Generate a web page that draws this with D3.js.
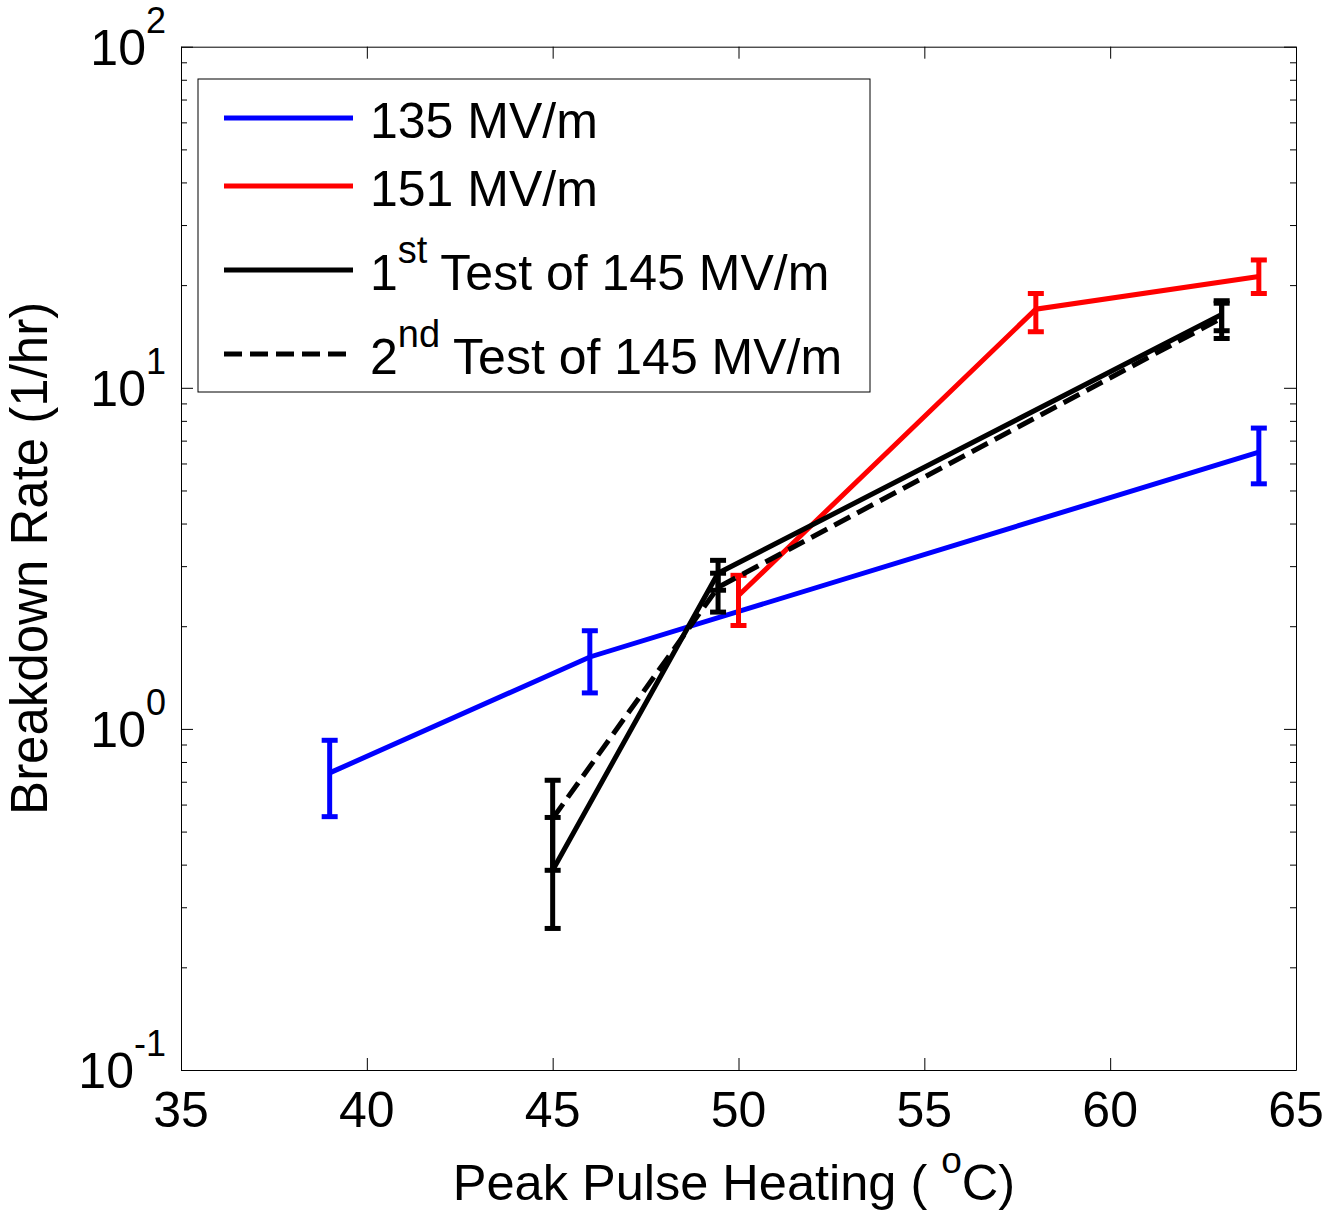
<!DOCTYPE html>
<html>
<head>
<meta charset="utf-8">
<script src="https://cdn.jsdelivr.net/npm/d3@7"></script>
<style>
  body { margin: 0; background: #fff; }
  text { font-family: "Liberation Sans", Arial, Helvetica, sans-serif; fill: #000; }
</style>
</head>
<body>
<div id="chart-area"></div>
<script>
// tick values
const xTicks = [35, 40, 45, 50, 55, 60, 65]
const yExps = [-1, 0, 1, 2]

// 135 MV/m
const temp135 = [39, 46, 64]
const rate135 = [0.743, 1.625, 6.48]
const lo135 = [0.553, 1.275, 5.23]
const hi135 = [0.926, 1.94, 7.62]

// 151 MV/m
const temp151 = [50, 58, 64]
const rate151 = [2.46, 17.0, 21.2]
const lo151 = [2.01, 14.6, 18.9]
const hi151 = [2.82, 18.9, 23.7]

// 145 MV/m, 1st test
const temp145a = [45, 49.45, 63]
const rate145a = [0.385, 2.86, 16.4]
const lo145a = [0.26, 2.55, 13.95]
const hi145a = [0.55, 3.12, 18.0]

// 145 MV/m, 2nd test
const temp145b = [45, 49.45, 63]
const rate145b = [0.546, 2.60, 16.0]
const lo145b = [0.385, 2.20, 14.7]
const hi145b = [0.707, 2.86, 17.7]

const MARGIN = { LEFT: 181, RIGHT: 30, TOP: 46.7, BOTTOM: 143 }
const WIDTH = 1326 - MARGIN.LEFT - MARGIN.RIGHT
const HEIGHT = 1213 - MARGIN.TOP - MARGIN.BOTTOM

const svg = d3.select("#chart-area").append("svg")
  .attr("width", 1326)
  .attr("height", 1213)

const g = svg.append("g")
  .attr("transform", `translate(${MARGIN.LEFT}, ${MARGIN.TOP})`)

const xScale = d3.scaleLinear().domain([35, 65]).range([0, WIDTH])
const yScale = d3.scaleLog().domain([0.1, 100]).range([HEIGHT, 0])

// minor log ticks
const minor = []
yExps.slice(0, -1).forEach(e => {
  for (let k = 2; k <= 9; k++) minor.push(k * Math.pow(10, e))
})
const major = yExps.map(e => Math.pow(10, e))

// AXES (ticks point inward, box on all sides)
g.append("g").attr("class", "xAxis")
  .attr("transform", `translate(0,${HEIGHT})`)
  .call(d3.axisBottom(xScale).tickValues(xTicks).tickSizeInner(-12).tickSizeOuter(0).tickFormat(""))
g.append("g").attr("class", "xAxisTop")
  .call(d3.axisTop(xScale).tickValues(xTicks).tickSizeInner(-12).tickSizeOuter(0).tickFormat(""))
g.append("g").attr("class", "yAxis")
  .call(d3.axisLeft(yScale).tickValues(major).tickSizeInner(-12).tickSizeOuter(0).tickFormat(""))
g.append("g").attr("class", "yAxisRight")
  .attr("transform", `translate(${WIDTH},0)`)
  .call(d3.axisRight(yScale).tickValues(major).tickSizeInner(-12).tickSizeOuter(0).tickFormat(""))
g.append("g")
  .call(d3.axisLeft(yScale).tickValues(minor).tickSizeInner(-6).tickSizeOuter(0).tickFormat(""))
  .select(".domain").remove()
g.append("g")
  .attr("transform", `translate(${WIDTH},0)`)
  .call(d3.axisRight(yScale).tickValues(minor).tickSizeInner(-6).tickSizeOuter(0).tickFormat(""))
  .select(".domain").remove()
g.selectAll(".domain, .tick line").attr("stroke", "#000").attr("stroke-width", 1)

// tick labels
g.selectAll(".xlab").data(xTicks).enter().append("text")
  .attr("x", d => xScale(d))
  .attr("y", HEIGHT + 57)
  .attr("text-anchor", "middle")
  .attr("font-size", 50)
  .text(d => d)

const ylab = g.selectAll(".ylab").data(yExps).enter().append("text")
  .attr("x", -15)
  .attr("y", d => yScale(Math.pow(10, d)) + 18)
  .attr("text-anchor", "end")
  .attr("font-size", 50)
ylab.append("tspan").text("10")
ylab.append("tspan").attr("font-size", 36).attr("dy", -32).text(d => d)

// axis titles
const xt = svg.append("text")
  .attr("x", 734).attr("y", 1200)
  .attr("text-anchor", "middle")
  .attr("font-size", 50.5)
xt.append("tspan").text("Peak Pulse Heating ( ")
xt.append("tspan").attr("font-size", 37).attr("dy", -27).text("o")
xt.append("tspan").attr("dy", 27).text("C)")

svg.append("text")
  .attr("transform", `translate(47, ${MARGIN.TOP + HEIGHT / 2}) rotate(-90)`)
  .attr("text-anchor", "middle")
  .attr("font-size", 51)
  .text("Breakdown Rate (1/hr)")

// DATA
const series = [
  { t: temp135, r: rate135, lo: lo135, hi: hi135, color: "#0000ff", dash: null },
  { t: temp151, r: rate151, lo: lo151, hi: hi151, color: "#ff0000", dash: null },
  { t: temp145a, r: rate145a, lo: lo145a, hi: hi145a, color: "#000", dash: null },
  { t: temp145b, r: rate145b, lo: lo145b, hi: hi145b, color: "#000", dash: "18,8" }
]

const line = d3.line()
  .x(d => xScale(d[0]))
  .y(d => yScale(d[1]))

series.forEach(s => {
  const pts = s.t.map((t, i) => [t, s.r[i]])
  g.append("path")
    .datum(pts)
    .attr("fill", "none")
    .attr("stroke", s.color)
    .attr("stroke-width", 5)
    .attr("stroke-dasharray", s.dash)
    .attr("d", line)

  const eb = g.append("g")
  s.t.forEach((t, i) => {
    const cx = xScale(t)
    eb.append("line")
      .attr("x1", cx).attr("x2", cx)
      .attr("y1", yScale(s.lo[i])).attr("y2", yScale(s.hi[i]))
      .attr("stroke", s.color).attr("stroke-width", 5)
    ;[s.lo[i], s.hi[i]].forEach(v => {
      eb.append("line")
        .attr("x1", cx - 8).attr("x2", cx + 8)
        .attr("y1", yScale(v)).attr("y2", yScale(v))
        .attr("stroke", s.color).attr("stroke-width", 5)
    })
  })
})

// LEGEND
const legend = svg.append("g")
legend.append("rect")
  .attr("x", 198).attr("y", 79)
  .attr("width", 672).attr("height", 313)
  .attr("fill", "#fff").attr("stroke", "#000").attr("stroke-width", 1)

const rowsY = [138, 206, 290, 374]
const labels = [
  ["135 MV/m"],
  ["151 MV/m"],
  ["1", "st", " Test of 145 MV/m"],
  ["2", "nd", " Test of 145 MV/m"]
]
series.forEach((s, i) => {
  legend.append("line")
    .attr("x1", 224).attr("x2", 353)
    .attr("y1", rowsY[i] - 20).attr("y2", rowsY[i] - 20)
    .attr("stroke", s.color).attr("stroke-width", 5)
    .attr("stroke-dasharray", s.dash)
  const t = legend.append("text")
    .attr("x", 370).attr("y", rowsY[i])
    .attr("font-size", 50)
  const parts = labels[i]
  t.append("tspan").text(parts[0])
  if (parts.length > 1) {
    t.append("tspan").attr("font-size", 38).attr("dy", -27).text(parts[1])
    t.append("tspan").attr("dy", 27).text(parts[2])
  }
})
</script>
</body>
</html>
